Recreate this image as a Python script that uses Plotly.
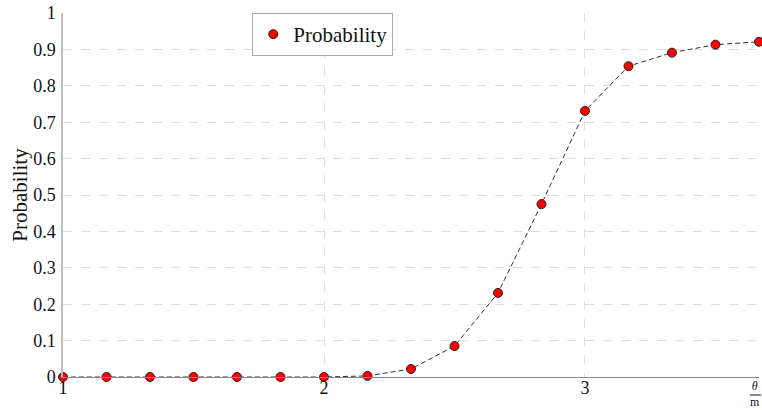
import plotly.graph_objects as go

theta = [1.0, 1.1667, 1.3333, 1.5, 1.6667, 1.8333, 2.0, 2.1667, 2.3333, 2.5,
         2.6667, 2.8333, 3.0, 3.1667, 3.3333, 3.5, 3.6667]
prob = [0.0, 0.0, 0.0, 0.0, 0.0, 0.0, 0.0, 0.003, 0.022, 0.085,
        0.231, 0.475, 0.731, 0.854, 0.891, 0.913, 0.921]
y_ticks = [0, 0.1, 0.2, 0.3, 0.4, 0.5, 0.6, 0.7, 0.8, 0.9, 1]
x_ticks = [1, 2, 3]

FONT = "Liberation Serif"
MARKER = dict(color="#ff0000", size=9, line=dict(color="#222222", width=1))

fig = go.Figure()
fig.add_trace(go.Scatter(
    x=theta, y=prob, mode="lines+markers", name="Probability", showlegend=False,
    line=dict(color="#333333", width=1, dash="5px,3px"),
    marker=MARKER, cliponaxis=False,
))
# legend entry (marker only, as in the reference)
fig.add_trace(go.Scatter(x=[None], y=[None], mode="markers", name="Probability",
                         marker=MARKER))

fig.update_layout(
    width=762, height=410,
    margin=dict(l=63, r=3, t=13, b=33),
    paper_bgcolor="white", plot_bgcolor="white",
    font=dict(family=FONT, size=18, color="#111111"),
    showlegend=True,
    legend=dict(x=0.272, y=1.0, xanchor="left", yanchor="top",
                bgcolor="white", bordercolor="#aaaaaa", borderwidth=1,
                font=dict(family=FONT, size=21),
                itemwidth=30, tracegroupgap=0),
    xaxis=dict(range=[1, 3.6667], tickvals=x_ticks, ticktext=[str(v) for v in x_ticks],
               showgrid=True, gridcolor="#dddddd", griddash="dash", gridwidth=1,
               zeroline=False, showline=True, linecolor="#888888", linewidth=1.2,
               ticks="", tickfont=dict(size=18), automargin=False,
               ticklabelstandoff=-6, ticklabeloverflow="allow"),
    yaxis=dict(range=[0, 1], tickvals=y_ticks, ticktext=[("%g" % v) for v in y_ticks],
               showgrid=True, gridcolor="#dddddd", griddash="dash", gridwidth=1,
               zeroline=False, showline=True, linecolor="#c0c0c0", linewidth=1.5,
               ticks="", tickfont=dict(size=18), automargin=False,
               ticklabelstandoff=2, ticklabeloverflow="allow",
               title=dict(text="Probability", font=dict(size=21), standoff=0)),
)

# unit label theta / m at the right end of the x axis
fig.add_annotation(x=1, xref="paper", y=0, yref="paper", yshift=-17,
                   text="<i>θ</i><br>m", showarrow=False, xanchor="center", yanchor="middle",
                   align="center", borderpad=0,
                   font=dict(family=FONT, size=12), xshift=-4)
fig.add_shape(type="line", xref="paper", yref="paper",
              xsizemode="pixel", xanchor=1, x0=-9, x1=2,
              ysizemode="pixel", yanchor=0, y0=-18, y1=-18,
              line=dict(color="#111111", width=1))

fig.write_html(
    "out.html",
    config={"displayModeBar": False},
    post_script="document.body.style.margin='0';document.body.style.overflow='hidden';",
)
